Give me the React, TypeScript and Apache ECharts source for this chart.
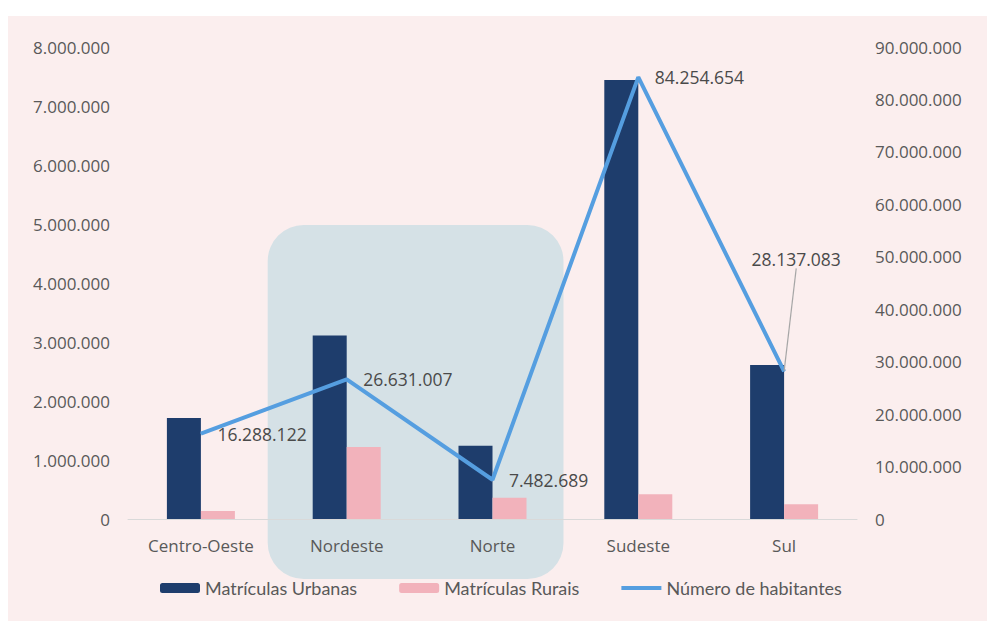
import React, { useEffect, useRef } from "react";
import * as echarts from "echarts";

const categories = ["Centro-Oeste", "Nordeste", "Norte", "Sudeste", "Sul"];
const urbanas = [1710000, 3110000, 1240000, 7440000, 2610000];
const rurais = [135000, 1220000, 360000, 420000, 250000];
const habitantes = [16288122, 26631007, 7482689, 84254654, 28137083];
const seriesNames = ["Matrículas Urbanas", "Matrículas Rurais", "Número de habitantes"];

const fmt = (v: number) => String(Math.round(v)).replace(/\B(?=(\d{3})+(?!\d))/g, ".");

const FONT = "Open Sans";
const TXT = "#595959";

export default function App() {
  const ref = useRef<HTMLDivElement>(null);
  useEffect(() => {
    if (!ref.current) return;
    const chart = echarts.init(ref.current, undefined, { renderer: "svg" });
    chart.setOption({
      animation: false,
      grid: { left: 128, right: 130, top: 47, bottom: 102 },
      legend: {
        left: 155,
        top: 574,
        itemWidth: 40,
        itemHeight: 10,
        itemGap: 42,
        data: [
          { name: seriesNames[0] },
          { name: seriesNames[1] },
          { name: seriesNames[2], icon: "path://M0 0h40v4H0z" },
        ],
        textStyle: { color: TXT, fontFamily: "Lato", fontSize: 18 },
      },
      xAxis: {
        type: "category",
        data: categories,
        axisTick: { show: false },
        axisLine: { lineStyle: { color: "#D9D9D9", width: 1 } },
        axisLabel: { color: TXT, fontFamily: FONT, fontSize: 17, margin: 18 },
      },
      yAxis: [
        {
          type: "value",
          min: 0,
          max: 8000000,
          interval: 1000000,
          splitLine: { show: false },
          axisLine: { show: false },
          axisTick: { show: false },
          axisLabel: { color: TXT, fontFamily: FONT, fontSize: 17, margin: 18, formatter: (v: number) => fmt(v) },
        },
        {
          type: "value",
          min: 0,
          max: 90000000,
          interval: 10000000,
          splitLine: { show: false },
          axisLine: { show: false },
          axisTick: { show: false },
          axisLabel: { color: TXT, fontFamily: FONT, fontSize: 17, margin: 18, formatter: (v: number) => fmt(v) },
        },
      ],
      series: [
        {
          name: seriesNames[0],
          type: "bar",
          data: urbanas,
          barWidth: 34,
          barGap: "0%",
          itemStyle: { color: "#1E3D6C" },
          z: 2,
        },
        {
          name: seriesNames[1],
          type: "bar",
          data: rurais,
          barWidth: 34,
          itemStyle: { color: "#F2B2BB" },
          z: 2,
        },
        {
          name: seriesNames[2],
          type: "line",
          yAxisIndex: 1,
          symbol: "circle",
          symbolSize: 1,
          showSymbol: true,
          data: habitantes.map((v, i) =>
            i === 4
              ? { value: v, labelLine: { show: true, lineStyle: { color: "#A6A6A6", width: 1.2 } } }
              : v
          ),
          lineStyle: { color: "#559EE0", width: 4 },
          itemStyle: { color: "#559EE0" },
          label: {
            show: true,
            position: "right",
            distance: 16,
            color: "#4A4A4A",
            fontFamily: FONT,
            fontSize: 17.5,
            formatter: (p: any) => fmt(p.value),
          },
          labelLine: { show: false },
          labelLayout: (p: any) => (p.dataIndex === 4 ? { dx: -49, dy: -112 } : {}),
          z: 3,
        },
      ],
    });
    const x1 = chart.convertToPixel({ xAxisIndex: 0 }, categories[1]) as number;
    const x2 = chart.convertToPixel({ xAxisIndex: 0 }, categories[2]) as number;
    chart.setOption({
      graphic: [
        {
          type: "rect",
          z: -1,
          shape: { x: x1 - 79, y: 225, width: x2 + 71 - (x1 - 79), height: 354, r: 36 },
          style: { fill: "#D5E1E6" },
        },
      ],
    });
    return () => chart.dispose();
  }, []);
  return (
    <div style={{ position: "fixed", left: 0, top: 0, width: 987, height: 621, background: "#ffffff" }}>
      <div style={{ position: "absolute", left: 8, top: 16, width: 979, height: 605, background: "#FBEEEE" }} />
      <div ref={ref} style={{ position: "absolute", left: 0, top: 0, width: 987, height: 621 }} />
    </div>
  );
}
